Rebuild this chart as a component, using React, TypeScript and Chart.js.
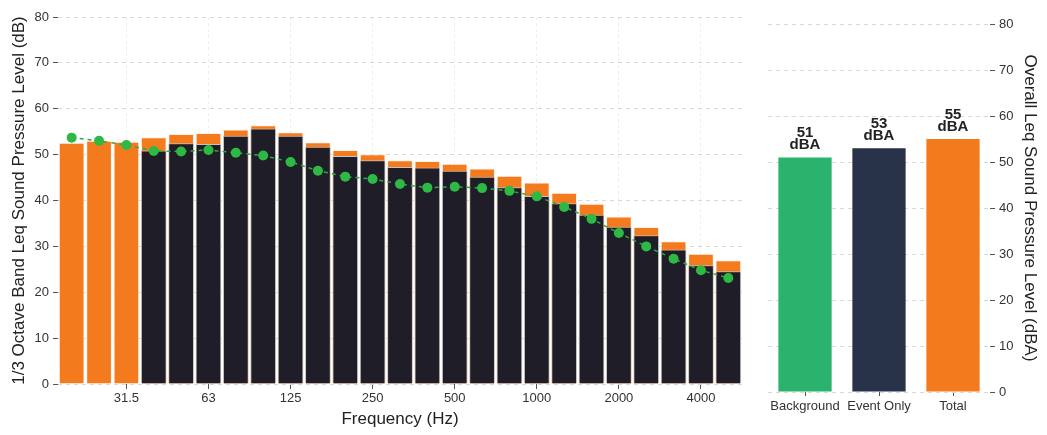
import React, { useEffect, useRef } from "react";
import { Chart, registerables } from "chart.js";

Chart.register(...registerables);

const FONT = "'Liberation Sans', Arial, Helvetica, sans-serif";

// 1/3 octave band centre frequencies (Hz)
const freqLabels = ["20", "25", "31.5", "40", "50", "63", "80", "100", "125", "160", "200", "250", "315", "400", "500", "630", "800", "1000", "1250", "1600", "2000", "2500", "3150", "4000", "5000"];
const shownFreqTicks = ["31.5", "63", "125", "250", "500", "1000", "2000", "4000"];

// Band levels (dB)
const totalLevels = [52.6, 53.0, 52.8, 53.8, 54.5, 54.7, 55.5, 56.4, 54.9, 52.7, 51.0, 50.1, 48.8, 48.6, 48.0, 47.0, 45.4, 43.9, 41.7, 39.3, 36.5, 34.2, 31.1, 28.4, 27.0];
const eventLevels = [null, null, null, 50.9, 52.5, 52.3, 54.1, 55.7, 54.1, 51.7, 49.7, 48.8, 47.3, 47.2, 46.5, 45.2, 42.9, 41.0, 39.4, 36.9, 34.3, 32.4, 29.3, 25.9, 24.6];
const backgroundLevels = [53.7, 53.0, 52.1, 50.8, 50.7, 51.0, 50.4, 49.8, 48.4, 46.5, 45.2, 44.7, 43.6, 42.8, 43.0, 42.7, 42.1, 40.9, 38.6, 36.0, 32.9, 30.0, 27.3, 24.8, 23.1];

// Overall levels (dBA)
const overallCategories = ["Background", "Event Only", "Total"];
const overallLevels = [51, 53, 55];

const ORANGE = "#F47A1E";
const DARK = "#1E1D28";
const GREEN_DOT = "#2DB944";
const GREEN_BAR = "#2BB36E";
const NAVY = "#283349";
const GRID = "#d8d8d8";
const TEXT = "#333333";

export default function App() {
  const leftRef = useRef<HTMLCanvasElement>(null);
  const rightRef = useRef<HTMLCanvasElement>(null);

  useEffect(() => {
    Chart.defaults.font.family = FONT;
    const left = new Chart(leftRef.current!, {
      type: "bar",
      data: {
        labels: freqLabels,
        datasets: [
          {
            type: "line",
            label: "Background",
            data: backgroundLevels,
            borderColor: "#2ea84a",
            borderWidth: 1.5,
            borderDash: [4, 4],
            pointRadius: 5,
            pointBackgroundColor: GREEN_DOT,
            pointBorderWidth: 0,
            order: 1,
          } as any,
          {
            label: "Event Only",
            data: eventLevels,
            backgroundColor: DARK,
            borderColor: "#c4c4c4",
            borderWidth: 1,
            barPercentage: 0.94,
            categoryPercentage: 1,
            order: 2,
          },
          {
            label: "Total",
            data: totalLevels,
            backgroundColor: ORANGE,
            borderColor: "rgba(255,240,225,0.8)",
            borderWidth: 1,
            barPercentage: 0.94,
            categoryPercentage: 1,
            order: 3,
          },
        ],
      },
      options: {
        responsive: false,
        animation: false,
        layout: { padding: { top: 17, right: 8, left: 0, bottom: 0 } },
        plugins: { legend: { display: false }, tooltip: { enabled: false } },
        scales: {
          x: {
            stacked: true,
            afterFit: (s: any) => { s.height = 51; },
            grid: {
              offset: false,
              color: "rgba(0,0,0,0.07)",
              tickColor: "#555",
              tickLength: 5,
            },
            border: { display: false, dash: [3, 3] },
            ticks: {
              autoSkip: false,
              maxRotation: 0,
              padding: 2,
              color: TEXT,
              font: { size: 13 },
              callback: (_v: any, i: number) => (shownFreqTicks.includes(freqLabels[i]) ? freqLabels[i] : null),
            },
            title: {
              display: true,
              text: "Frequency (Hz)",
              color: "#222",
              font: { size: 17 },
              padding: { top: 0, bottom: 5 },
            },
          },
          y: {
            stacked: false,
            min: 0,
            max: 80,
            afterFit: (s: any) => { s.width = 58; },
            grid: { color: GRID, tickColor: "#555", tickLength: 5 },
            border: { display: false, dash: [4, 4] },
            ticks: { stepSize: 10, padding: 4, color: TEXT, font: { size: 13 } },
            title: {
              display: true,
              text: "1/3 Octave Band Leq Sound Pressure Level (dB)",
              color: "#222",
              font: { size: 17 },
              padding: { top: 9, bottom: 0 },
            },
          },
        },
      },
    });

    const labelPlugin = {
      id: "barLabels",
      afterDatasetsDraw(chart: any) {
        const ctx = chart.ctx;
        const meta = chart.getDatasetMeta(0);
        ctx.save();
        ctx.fillStyle = "#222";
        ctx.font = `bold 15px ${FONT}`;
        ctx.textAlign = "center";
        ctx.textBaseline = "alphabetic";
        meta.data.forEach((bar: any, i: number) => {
          const v = chart.data.datasets[0].data[i];
          ctx.fillText(String(Math.round(v)), bar.x, bar.y - 20);
          ctx.fillText("dBA", bar.x, bar.y - 8);
        });
        ctx.restore();
      },
    };

    const right = new Chart(rightRef.current!, {
      type: "bar",
      data: {
        labels: overallCategories,
        datasets: [
          {
            label: "Overall",
            data: overallLevels,
            backgroundColor: [GREEN_BAR, NAVY, ORANGE],
            borderWidth: 0,
            barPercentage: 0.72,
            categoryPercentage: 1,
          },
        ],
      },
      options: {
        responsive: false,
        animation: false,
        layout: { padding: { top: 24, right: 0, left: 18, bottom: 0 } },
        plugins: { legend: { display: false }, tooltip: { enabled: false } },
        scales: {
          x: {
            afterFit: (s: any) => { s.height = 43; },
            grid: { display: true, drawOnChartArea: false, offset: false, tickColor: "#555", tickLength: 4 },
            border: { display: false },
            ticks: { padding: 3, color: TEXT, font: { size: 13 }, maxRotation: 0, autoSkip: false },
          },
          y: {
            position: "right",
            min: 0,
            max: 80,
            afterFit: (s: any) => { s.width = 57; },
            grid: { color: GRID, tickColor: "#555", tickLength: 5 },
            border: { display: false, dash: [4, 4] },
            ticks: { stepSize: 10, padding: 4, color: TEXT, font: { size: 13 } },
            title: {
              display: true,
              text: "Overall Leq Sound Pressure Level (dBA)",
              color: "#222",
              font: { size: 17 },
              padding: { top: 7, bottom: 0 },
            },
          },
        },
      },
      plugins: [labelPlugin],
    });

    return () => {
      left.destroy();
      right.destroy();
    };
  }, []);

  return (
    <div style={{ position: "absolute", left: 0, top: 0, width: 1047, height: 435, background: "#fff" }}>
      <canvas ref={leftRef} width={750} height={435} style={{ position: "absolute", left: 0, top: 0 }} />
      <canvas ref={rightRef} width={297} height={435} style={{ position: "absolute", left: 750, top: 0 }} />
    </div>
  );
}
